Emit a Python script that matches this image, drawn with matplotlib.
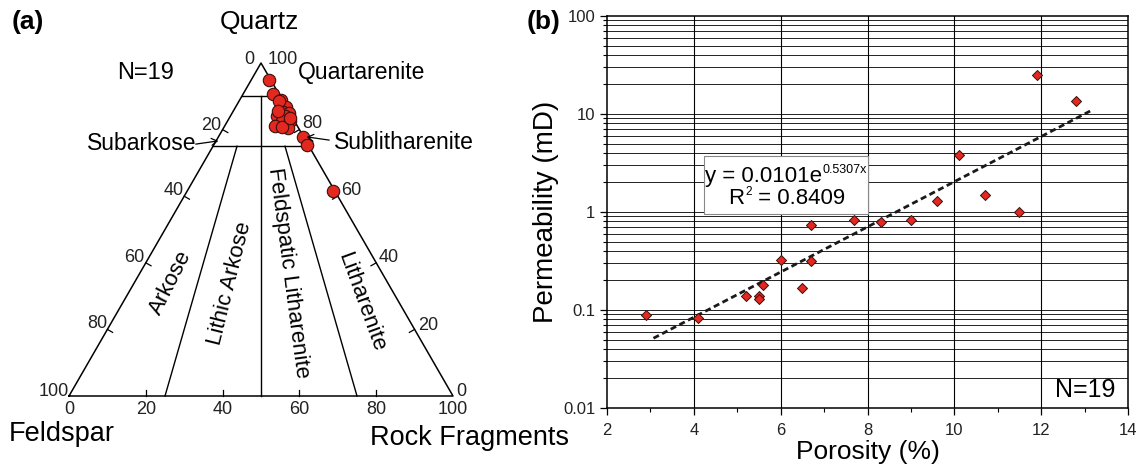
import matplotlib
matplotlib.use("Agg")
import matplotlib.pyplot as plt
import numpy as np

plt.rcParams['font.family'] = ['Liberation Sans', 'DejaVu Sans']

# (a) QFR composition of the 19 samples (%)
quartz = np.array([95.0, 90.8, 89.0, 86.9, 85.4, 85.1, 84.0, 84.0, 82.5, 82.5,
                   80.5, 81.0, 80.7, 77.8, 75.5, 61.7, 88.5, 85.7, 83.5])
feldspar = np.array([0.3, 1.4, 0.3, 0.1, 1.5, 0.2, 1.8, 3.9, 3.4, 1.2,
                     2.7, 5.9, 4.3, 0.1, 0.4, 0.4, 1.1, 2.7, 0.7])
rock_frag = 100 - quartz - feldspar

# (b) porosity (%) vs permeability (mD)
porosity = np.array([2.9, 4.1, 5.2, 5.5, 5.5, 5.6, 6.0, 6.5, 6.7, 6.7, 7.7, 8.3, 9.0,
                     9.6, 10.1, 10.7, 11.5, 11.9, 12.8])
permeability = np.array([0.088, 0.082, 0.139, 0.139, 0.129, 0.178, 0.325, 0.169, 0.318, 0.74,
                         0.82, 0.79, 0.82, 1.31, 3.78, 1.48, 1.0, 24.9, 13.6])
fit_a, fit_b = 0.0101, 0.5307
fit_range = [3.07, 13.15]

W, H = 1146, 465
fig = plt.figure(figsize=(W / 100, H / 100), dpi=100)


def fx(px):
    return px / W


def fy(py):
    return 1 - py / H


TICK_C = '#222222'

# ---------- (a) ternary ----------
x0p, x1p, ytop, ybot = 69, 453, 63, 396
ax = fig.add_axes([fx(x0p), fy(ybot), (x1p - x0p) / W, (ybot - ytop) / H])
ax.set_xlim(0, 100)
ax.set_ylim(0, 100)
ax.axis('off')
ux = (x1p - x0p) / 100.0
uy = (ybot - ytop) / 100.0


def tern(q, r):
    # F at left, R at right, Q at apex
    return r + q / 2, q


def seg(q1, r1, q2, r2_):
    xa, ya = tern(q1, r1)
    xb, yb = tern(q2, r2_)
    ax.plot([xa, xb], [ya, yb], color='k', lw=1.0, clip_on=False)


ax.plot([0, 100, 50, 0], [0, 0, 100, 0], color='k', lw=1.1, clip_on=False)
q_hi, q_lo = 90, 75
seg(q_hi, 0, q_hi, 100 - q_hi)
seg(q_lo, 0, q_lo, 100 - q_lo)
seg(q_hi, (100 - q_hi) / 2, 0, 50)
seg(q_lo, (100 - q_lo) * 0.25, 0, 25)
seg(q_lo, (100 - q_lo) * 0.75, 0, 75)

tl = 6
for v in [20, 40, 60, 80]:
    ax.plot([v, v], [0, tl / uy], color='k', lw=0.9, clip_on=False)
    xa, ya = v / 2, v
    ax.plot([xa, xa + tl * 0.87 / ux], [ya, ya - tl * 0.5 / uy], color='k', lw=0.9, clip_on=False)
    xa, ya = 100 - v / 2, v
    ax.plot([xa, xa - tl * 0.87 / ux], [ya, ya - tl * 0.5 / uy], color='k', lw=0.9, clip_on=False)

tx, ty = tern(quartz, rock_frag)
ax.scatter(tx, ty, s=80, color='#e3281f', edgecolor='#3a1010', linewidth=0.8, zorder=5, clip_on=False)

fs_tick = 13
for v in range(0, 101, 20):
    fig.text(fx(x0p + ux * v), fy(409), str(v), ha='center', va='center', fontsize=fs_tick, color=TICK_C)
left_lbl = {100: (54, 391), 80: (97, 324), 60: (134, 257), 40: (174, 190), 20: (211, 125)}
for k, (px, py) in left_lbl.items():
    fig.text(fx(px), fy(py), str(k), ha='center', va='center', fontsize=fs_tick, color=TICK_C)
right_lbl = {0: (461, 391), 20: (428, 325), 40: (389, 257), 60: (351, 190), 80: (312, 123)}
for k, (px, py) in right_lbl.items():
    fig.text(fx(px), fy(py), str(k), ha='center', va='center', fontsize=fs_tick, color=TICK_C)
fig.text(fx(249), fy(59), '0', ha='center', va='center', fontsize=fs_tick, color=TICK_C)
fig.text(fx(283), fy(59), '100', ha='center', va='center', fontsize=fs_tick, color=TICK_C)

fig.text(fx(12), fy(22), '(a)', ha='left', va='center', fontsize=19, fontweight='bold')
fig.text(fx(259), fy(22), 'Quartz', ha='center', va='center', fontsize=19)
fig.text(fx(146), fy(73), 'N=19', ha='center', va='center', fontsize=17)
fig.text(fx(298), fy(73), 'Quartarenite', ha='left', va='center', fontsize=16.5)
fig.text(fx(87), fy(144), 'Subarkose', ha='left', va='center', fontsize=16.5)
fig.text(fx(334), fy(142), 'Sublitharenite', ha='left', va='center', fontsize=16.5)
fig.text(fx(9), fy(434), 'Feldspar', ha='left', va='center', fontsize=19.5)
fig.text(fx(370), fy(438), 'Rock Fragments', ha='left', va='center', fontsize=19.5)
fig.text(fx(171), fy(283), 'Arkose', ha='center', va='center', fontsize=16, rotation=63)
fig.text(fx(230), fy(283), 'Lithic Arkose', ha='center', va='center', fontsize=16, rotation=76)
fig.text(fx(288), fy(273), 'Feldspatic Litharenite', ha='center', va='center', fontsize=16, rotation=-82.5)
fig.text(fx(361), fy(302), 'Litharenite', ha='center', va='center', fontsize=16, rotation=-70)

for start, end in [((193, 144.5), (221, 140.5)), ((332, 140.5), (304, 136.5))]:
    fig.patches.append(matplotlib.patches.FancyArrowPatch(
        (fx(start[0]), fy(start[1])), (fx(end[0]), fy(end[1])), transform=fig.transFigure,
        arrowstyle='->,head_length=4,head_width=2.5', color='k', lw=0.9))

# ---------- (b) porosity-permeability ----------
bx = fig.add_axes([fx(607), fy(408), (1128 - 607) / W, (408 - 16) / H])
bx.set_yscale('log')
bx.set_xlim(2, 14)
bx.set_ylim(0.01, 100)

for d in [0.01, 0.1, 1, 10]:
    for m in range(1, 10):
        bx.axhline(d * m, color=TICK_C, lw=0.7, zorder=1)
for xv in [4, 6, 8, 10, 12]:
    bx.axvline(xv, color='k', lw=0.8, zorder=1)

xf = np.linspace(fit_range[0], fit_range[1], 50)
bx.plot(xf, fit_a * np.exp(fit_b * xf), color='#1a1a1a', lw=2.0, ls=(0, (2.2, 1.3)), zorder=3)
bx.scatter(porosity, permeability, marker='D', s=26, color='#e3281f', edgecolor='#3a1010',
           linewidth=0.7, zorder=4)

bx.set_xticks([2, 4, 6, 8, 10, 12, 14])
bx.set_xticks([3, 5, 7, 9, 11, 13], minor=True)
bx.set_yticks([0.01, 0.1, 1, 10, 100])
bx.set_yticklabels(['0.01', '0.1', '1', '10', '100'])
bx.tick_params(axis='both', which='major', direction='out', length=5, width=0.9,
               labelsize=12, labelcolor=TICK_C, top=False, right=False)
bx.tick_params(axis='x', which='major', pad=6)
bx.tick_params(axis='both', which='minor', direction='out', length=3, width=0.8, top=False, right=False)
for s in bx.spines.values():
    s.set_linewidth(1.1)

bx.set_xlabel('Porosity (%)', fontsize=19, labelpad=1)
bx.set_ylabel('Permeability (mD)', fontsize=20, labelpad=3)

bx.text(13.7, 0.0115, 'N=19', ha='right', va='bottom', fontsize=18, zorder=6)

box = matplotlib.patches.Rectangle((4.24, 0.96), 8.0 - 4.24, 3.69 - 0.96, facecolor='white',
                                   edgecolor='#888888', lw=0.8, zorder=5)
bx.add_patch(box)
eq = bx.text(4.25, 2.31, 'y = 0.0101e', ha='left', va='center', fontsize=16, zorder=6)
bx.annotate('0.5307x', xy=(1.0, 0.82), xycoords=eq, xytext=(0.5, 0), textcoords='offset points',
            ha='left', va='center', fontsize=9, zorder=6)
r_t = bx.text(4.8, 1.37, 'R', ha='left', va='center', fontsize=16, zorder=6)
sup2 = bx.annotate('2', xy=(1.0, 0.82), xycoords=r_t, xytext=(0.5, 0), textcoords='offset points',
                   ha='left', va='center', fontsize=8.5, zorder=6)
bx.annotate(' = 0.8409', xy=(1.0, 0.0), xycoords=(sup2, r_t), ha='left', va='bottom',
            fontsize=16, zorder=6)

fig.text(fx(527), fy(22), '(b)', ha='left', va='center', fontsize=19, fontweight='bold')

fig.savefig('out.png', dpi=100)
